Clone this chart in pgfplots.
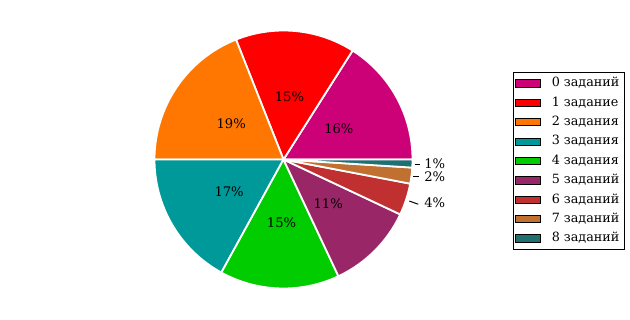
\documentclass[border=0pt]{standalone}
\usepackage{pgfplots}
\pgfplotsset{compat=1.18}
\usepackage{pgfplotstable}
\usepackage{fontspec}
\setmainfont{DejaVu Serif}

\definecolor{c0}{RGB}{204,0,119}
\definecolor{c1}{RGB}{255,0,0}
\definecolor{c2}{RGB}{255,119,0}
\definecolor{c3}{RGB}{0,153,153}
\definecolor{c4}{RGB}{0,204,0}
\definecolor{c5}{RGB}{153,38,102}
\definecolor{c6}{RGB}{192,48,48}
\definecolor{c7}{RGB}{192,112,48}
\definecolor{c8}{RGB}{31,112,112}

\pgfplotstableread[col sep=comma]{
label,value,color
0 заданий,16,c0
1 задание,15,c1
2 задания,19,c2
3 задания,17,c3
4 задания,15,c4
5 заданий,11,c5
6 заданий,4,c6
7 заданий,2,c7
8 заданий,1,c8
}\piedata

\begin{document}
\begin{tikzpicture}
\begin{axis}[
  x=1.29in, y=1.29in,
  xmin=-2.1977, xmax=2.6860, ymin=-1.2442, ymax=1.2364,
  hide axis, clip=false,
  legend cell align=left,
  legend style={at={(0.8143,0.775)}, anchor=north west, draw=black, line width=0.7pt,
    font=\fontsize{9.2}{11}\selectfont, inner sep=1pt,
    nodes={text height=6.8pt, text depth=2pt, inner ysep=2.6pt, inner xsep=2.5pt}},
  legend image code/.code={\draw[#1, line width=0.7pt] (0pt,-2.6pt) rectangle (18pt,2.6pt); \path (23.5pt,0pt);},
]
\path (rel axis cs:0,0) rectangle (rel axis cs:1,1);
\pgfplotstablegetrowsof{\piedata}\pgfmathtruncatemacro\N{\pgfplotsretval-1}
\def\cum{0}
\pgfplotsforeachungrouped \i in {0,...,\N}{%
  \pgfplotstablegetelem{\i}{value}\of{\piedata}\let\v\pgfplotsretval
  \pgfplotstablegetelem{\i}{color}\of{\piedata}\let\c\pgfplotsretval
  \pgfplotstablegetelem{\i}{label}\of{\piedata}\let\lab\pgfplotsretval
  \pgfmathsetmacro\a{3.6*\cum}%
  \pgfmathsetmacro\b{3.6*(\cum+\v)}%
  \pgfmathsetmacro\m{(\a+\b)/2}%
  \edef\temp{\noexpand\fill[fill=\c, draw=white, line width=1.3pt, line join=round] (axis cs:0,0) -- +(\a:1.29in) arc[start angle=\a, end angle=\b, radius=1.29in] -- cycle;}\temp
  \ifdim\v pt<5pt\else
    \edef\temp{\noexpand\node[font=\noexpand\fontsize{9.5}{11}\noexpand\selectfont] at ([shift={(\m:0.632in)}]axis cs:0,0) {\v\noexpand\%};}\temp
  \fi
  \edef\temp{\noexpand\addlegendimage{fill=\c, draw=black}\noexpand\addlegendentry{\lab}}\temp
  \pgfmathsetmacro\cum{\cum+\v}%
}
\draw[line width=0.7pt] (axis cs:1.019,-0.035) -- (axis cs:1.058,-0.035);
\node[anchor=west, inner sep=0pt, font=\fontsize{9.5}{11}\selectfont] at (axis cs:1.089,-0.030) {1\%};
\draw[line width=0.7pt] (axis cs:1.004,-0.133) -- (axis cs:1.050,-0.133);
\node[anchor=west, inner sep=0pt, font=\fontsize{9.5}{11}\selectfont] at (axis cs:1.089,-0.136) {2\%};
\draw[line width=0.7pt] (axis cs:0.975,-0.322) -- (axis cs:1.045,-0.347);
\node[anchor=west, inner sep=0pt, font=\fontsize{9.5}{11}\selectfont] at (axis cs:1.089,-0.337) {4\%};
\end{axis}
\end{tikzpicture}
\end{document}
